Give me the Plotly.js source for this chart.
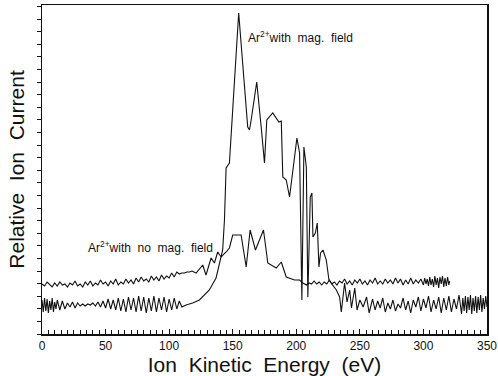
<!DOCTYPE html>
<html>
<head>
<meta charset="utf-8">
<script src="https://cdn.plot.ly/plotly-3.0.1.min.js"></script>
<style>html,body{margin:0;padding:0;background:#fff;}#chart{width:498px;height:376px;}</style>
</head>
<body>
<div id="chart"></div>
<script>
// Ar2+ with no magnetic field: energy (eV) and relative current (arb. units)
const noMagX = [0,2,4,6,8,10,12,14,16,18,20,22,24,26,28,30,32,34,36,38,40,42,44,46,48,50,52,54,56,58,60,62,64,66,68,70,72,74,76,78,80,82,84,86,88,90,92,94,96,98,100,102,104,106,108,110,112,114,116,118,
  121.2,126.4,129,133,135.6,138.2,140.9,144.8,147.4,150,156.6,160.6,163.7,167.9,174.2,177.6,184.2,188.2,192.1,198.6,202.6,205.2,
  208,210,212,214,216,218,220,222,224,226,228,230,232,234,236,238,240,242,244,246,248,250,252,254,256,258,260,262,264,266,268,270,272,274,276,278,280,282,284,286,288,290,292,294,296,298,300,301,302,303,304,305,306,307,308,309,310,311,312,313,314,315,316,317,318,319,320,320.7];
const noMagY = [50,48,52,49,47,51,48,52,49,50,47,51,49,53,48,50,47,52,49,53,48,51,49,54,50,52,48,53,50,55,49,52,50,55,51,54,50,56,52,57,53,55,52,58,54,57,53,59,55,58,56,61,57,62,60,61,61,62,62,63,
  61,69,59,76,71,82,77,82,86,99,99,67,104,84,104,71,66,72,57,54,54,51,
  49,51,50,53,50,52,49,52,50,54,50,52,49,53,51,55,50,53,49,54,51,55,50,53,49,54,51,56,50,53,50,55,51,54,50,56,51,55,49,54,50,56,50,54,51,55,49,56,50,55,48,57,49,55,47,58,49,56,46,57,50,58,47,56,48,57,49,53];

// Ar2+ with magnetic field
const magX = [0,1,2,3,4,5,6,7,8,9,10,11,12,14,16,18,20,22,24,26,28,30,32,34,36,38,40,42,44,46,48,50,52,54,56,58,60,62,64,66,68,70,72,74,76,78,80,82,84,86,88,90,92,94,96,98,100,102,104,106,108,110,113.3,118.5,
  123.8,127.7,131.6,136.9,139.5,142.1,143.5,144.8,147.4,149.5,154.7,161.8,163.2,164.5,168.9,172.4,175,176.8,181.5,186.3,188.2,189.4,192.1,194.7,197.3,200.5,202.6,204.4,206,207.9,209.1,211,212.3,213.1,215,216.5,217.8,219.1,221,223.6,225.7,228.8,231.5,234.1,235.4,238,239.9,242,243.4,246,247.8,250,252.6,255.3,257.3,
  260,262,264,266,268,270,272,274,276,278,280,282,284,286,288,290,292,294,296,298,300,302,304,306,308,310,312,314,316,318,320,322,324,326,328,330,331,332,333,334,335,336,337,338,339,340,341,342,343,344,345,346,347,348,349,350];
const magY = [34,22,36,23,35,21,33,24,36,22,32,25,34,24,33,25,31,27,32,26,31,28,30,28,30,29,31,28,32,27,33,26,35,25,34,24,36,23,35,22,37,24,36,22,38,23,37,21,36,23,38,22,36,24,37,22,35,24,36,25,33,27,29,31,
  34,39,44,56,71,84,114,166,171,214,321,207,204,214,252,207,171,214,221,212,213,157,154,137,161,196,181,34,187,167,37,137,141,97,101,111,67,81,84,74,54,49,44,37,22,51,32,44,26,46,24,34,27,37,21,
  35,24,33,26,36,22,31,25,34,23,30,26,36,24,33,21,34,27,37,23,35,26,38,22,34,25,37,21,36,24,38,22,35,25,39,20,36,23,38,21,37,24,39,20,36,23,38,21,37,24,39,22,36,25,38,27];

const xTickVals = [0,50,100,150,200,250,300,350];
const xTickText = ['0','50','100','150','200','250','300','350'];

const font = 'Liberation Sans, Arial, sans-serif';
const nb = '\u00A0';
const sp = nb + nb;

const traces = [
  {x: noMagX, y: noMagY, mode: 'lines', line: {color: '#111', width: 1.1}, hoverinfo: 'skip', showlegend: false},
  {x: magX, y: magY, mode: 'lines', line: {color: '#111', width: 1.1}, hoverinfo: 'skip', showlegend: false}
];

const layout = {
  width: 498, height: 376,
  margin: {l: 42, r: 11, t: 5, b: 42},
  paper_bgcolor: '#fff', plot_bgcolor: '#fff',
  font: {family: font, color: '#111'},
  showlegend: false,
  xaxis: {
    range: [0, 350], showgrid: false, zeroline: false,
    showline: true, linecolor: '#111', linewidth: 1.5, mirror: true,
    tickvals: xTickVals, ticktext: xTickText,
    ticks: 'inside', ticklen: 5, tickcolor: '#111',
    minor: {dtick: 5, tick0: 0, ticks: 'inside', ticklen: 4, tickcolor: '#111'},
    tickfont: {size: 12, family: font},
    title: {text: 'Ion' + sp + 'Kinetic' + sp + 'Energy' + sp + '(eV)', font: {size: 21, family: font}, standoff: 2}
  },
  yaxis: {
    range: [0, 329], showgrid: false, zeroline: false,
    showline: true, linecolor: '#111', linewidth: 1.5, mirror: true,
    showticklabels: false, tick0: 0, dtick: 12.6,
    ticks: 'outside', ticklen: 4, tickcolor: '#111',
    title: {text: 'Relative' + sp + 'Ion' + sp + 'Current', font: {size: 21, family: font}, standoff: 6}
  },
  annotations: [
    {x: 160.8, y: 297, xref: 'x', yref: 'y', xanchor: 'left', yanchor: 'middle', showarrow: false,
     text: 'Ar<sup>2+</sup>with' + sp + 'mag.' + sp + 'field', font: {size: 12, family: font, color: '#111'}},
    {x: 34.7, y: 87, xref: 'x', yref: 'y', xanchor: 'left', yanchor: 'middle', showarrow: false,
     text: 'Ar<sup>2+</sup>with' + sp + 'no' + sp + 'mag.' + sp + 'field', font: {size: 12, family: font, color: '#111'}}
  ]
};

Plotly.newPlot('chart', traces, layout, {displayModeBar: false, staticPlot: true});
</script>
</body>
</html>
